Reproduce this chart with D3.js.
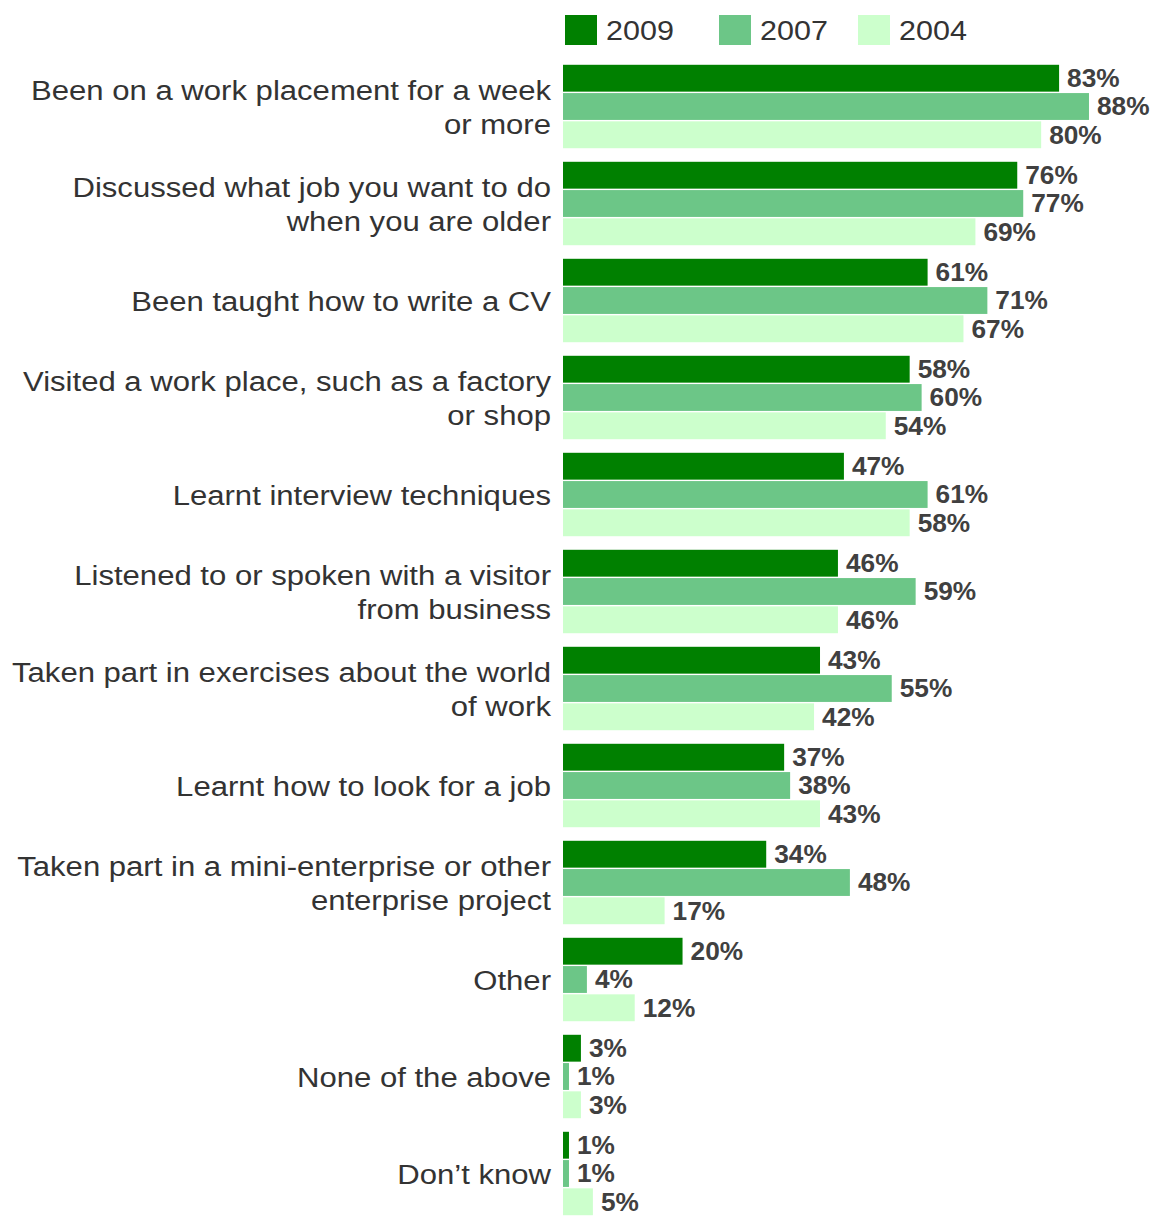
<!DOCTYPE html>
<html><head><meta charset="utf-8">
<script src="https://cdn.jsdelivr.net/npm/d3@7"></script>
<style>body{margin:0;background:#fff}</style>
</head><body>
<svg id="chart" width="1151" height="1218"></svg>
<script>
const categories = [
  "Been on a work placement for a week\nor more",
  "Discussed what job you want to do\nwhen you are older",
  "Been taught how to write a CV",
  "Visited a work place, such as a factory\nor shop",
  "Learnt interview techniques",
  "Listened to or spoken with a visitor\nfrom business",
  "Taken part in exercises about the world\nof work",
  "Learnt how to look for a job",
  "Taken part in a mini-enterprise or other\nenterprise project",
  "Other",
  "None of the above",
  "Don\u2019t know"
];
const seriesNames = ["2009", "2007", "2004"];
const values2009 = [83, 76, 61, 58, 47, 46, 43, 37, 34, 20, 3, 1];
const values2007 = [88, 77, 71, 60, 61, 59, 55, 38, 48, 4, 1, 1];
const values2004 = [80, 69, 67, 54, 58, 46, 42, 43, 17, 12, 3, 5];
const colors = ["#008000", "#6cc687", "#ccffcc"];

const seriesValues = [values2009, values2007, values2004];
const svg = d3.select("#chart");
const FONT = "Liberation Sans, Arial, sans-serif";

const x = d3.scaleLinear().domain([0, 100]).range([563, 563 + 597.7]);
const y0 = d3.scaleBand().domain(d3.range(categories.length)).range([58, 1222]).paddingInner(0.14).paddingOuter(0.07);
const y1 = d3.scaleBand().domain(d3.range(seriesNames.length)).range([0, y0.bandwidth()]).paddingInner(0.05);

// Legend
const legendX = [565, 719, 858];
const leg = svg.append("g").selectAll("g").data(seriesNames).join("g")
  .attr("transform", (d, i) => `translate(${legendX[i]},15)`);
leg.append("rect").attr("width", 32).attr("height", 30).attr("fill", (d, i) => colors[i]);
leg.append("g").attr("transform", "translate(41,15) scale(1.09,1)")
  .append("text").attr("dominant-baseline", "central")
  .attr("font-family", FONT).attr("font-size", 28)
  .attr("fill", "#333").text(d => d);

// Groups
const groups = svg.append("g").selectAll("g").data(categories).join("g")
  .attr("transform", (d, i) => `translate(0,${y0(i)})`);

groups.each(function(cat, ci) {
  const g = d3.select(this);
  const data = seriesValues.map((arr, si) => ({ si, v: arr[ci] }));
  g.selectAll("rect").data(data).join("rect")
    .attr("x", x(0))
    .attr("y", d => y1(d.si))
    .attr("width", d => x(d.v) - x(0))
    .attr("height", y1.bandwidth())
    .attr("fill", d => colors[d.si]);
  g.selectAll("g.val").data(data).join("g")
    .attr("class", "val")
    .attr("transform", d => `translate(${x(d.v) + 8},${y1(d.si) + y1.bandwidth() / 2}) scale(1.05,1)`)
    .append("text")
    .attr("dominant-baseline", "central")
    .attr("font-family", FONT)
    .attr("font-weight", "bold").attr("font-size", 25)
    .attr("fill", "#404040")
    .text(d => d.v + "%");
  const lines = cat.split("\n");
  const cy = y0.bandwidth() / 2 + 1;
  const lh = 34;
  g.selectAll("g.lbl").data(lines).join("g")
    .attr("class", "lbl")
    .attr("transform", (d, i) => `translate(551,${cy + (i - (lines.length - 1) / 2) * lh}) scale(1.11,1)`)
    .append("text")
    .attr("text-anchor", "end")
    .attr("dominant-baseline", "central")
    .attr("font-family", FONT)
    .attr("font-size", 28).attr("fill", "#333")
    .text(d => d);
});
</script>
</body></html>
